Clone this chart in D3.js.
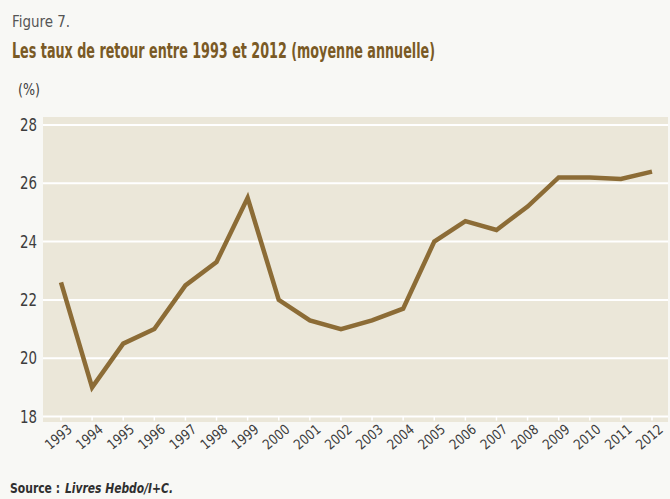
<!DOCTYPE html>
<html>
<head>
<meta charset="utf-8">
<script src="https://cdn.jsdelivr.net/npm/d3@7"></script>
<style>
  html, body { margin: 0; padding: 0; background: #f8f8f5; }
  svg { display: block; }
</style>
</head>
<body>
<svg id="chart" width="670" height="499"></svg>
<script>
const years = ["1993","1994","1995","1996","1997","1998","1999","2000","2001","2002",
               "2003","2004","2005","2006","2007","2008","2009","2010","2011","2012"];
const rates = [22.6, 19.0, 20.5, 21.0, 22.5, 23.3, 25.5, 22.0, 21.3, 21.0,
               21.3, 21.7, 24.0, 24.7, 24.4, 25.2, 26.2, 26.2, 26.15, 26.4];
const yTicks = [18, 20, 22, 24, 26, 28];

const condensed = "'DejaVu Sans Condensed', 'Liberation Sans Narrow', sans-serif";
const svg = d3.select("#chart");

const plot = { left: 43, right: 668, top: 117, bottom: 422 };

const x = d3.scalePoint().domain(years).range([61, 652]);
const y = d3.scaleLinear().domain([18, 28]).range([416.5, 125]);

// plot background
svg.append("rect")
  .attr("x", plot.left).attr("y", plot.top)
  .attr("width", plot.right - plot.left).attr("height", plot.bottom - plot.top)
  .attr("fill", "#ebe7d9");

// gridlines
svg.append("g").selectAll("line").data(yTicks).join("line")
  .attr("x1", plot.left).attr("x2", plot.right)
  .attr("y1", d => y(d)).attr("y2", d => y(d))
  .attr("stroke", "#ffffff").attr("stroke-width", 2);

// small ticks on bottom line
svg.append("g").selectAll("line").data(years).join("line")
  .attr("x1", d => x(d)).attr("x2", d => x(d))
  .attr("y1", y(18)).attr("y2", y(18) + 4)
  .attr("stroke", "#ffffff").attr("stroke-width", 1.5);

// y axis labels
svg.append("g").selectAll("text").data(yTicks).join("text")
  .attr("x", 37).attr("y", d => y(d) + 6)
  .attr("text-anchor", "end")
  .attr("font-family", condensed).attr("font-size", 17)
  .attr("textLength", 17).attr("lengthAdjust", "spacingAndGlyphs")
  .attr("fill", "#3d3d3d")
  .text(d => d);

// x axis labels (rotated)
svg.append("g").selectAll("text").data(years).join("text")
  .attr("transform", d => `translate(${x(d) + 12},${431}) rotate(-40)`)
  .attr("text-anchor", "end")
  .attr("font-family", condensed).attr("font-size", 14)
  .attr("textLength", 30).attr("lengthAdjust", "spacingAndGlyphs")
  .attr("fill", "#3d3d3d")
  .text(d => d);

// line
const line = d3.line()
  .x((d, i) => x(years[i]))
  .y(d => y(d));
svg.append("path")
  .datum(rates)
  .attr("d", line)
  .attr("fill", "none")
  .attr("stroke", "#8c6c36")
  .attr("stroke-width", 4.5)
  .attr("stroke-linejoin", "miter")
  .attr("stroke-linecap", "butt");

// titles
svg.append("text")
  .attr("x", 12).attr("y", 27)
  .attr("font-family", condensed).attr("font-size", 16)
  .attr("textLength", 58).attr("lengthAdjust", "spacingAndGlyphs")
  .attr("fill", "#555555")
  .text("Figure 7.");
svg.append("text")
  .attr("x", 12).attr("y", 58)
  .attr("font-family", condensed).attr("font-size", 21).attr("font-weight", "bold")
  .attr("textLength", 423).attr("lengthAdjust", "spacingAndGlyphs")
  .attr("fill", "#7a5a25")
  .text("Les taux de retour entre 1993 et 2012 (moyenne annuelle)");
svg.append("text")
  .attr("x", 18).attr("y", 95)
  .attr("font-family", condensed).attr("font-size", 15)
  .attr("textLength", 22).attr("lengthAdjust", "spacingAndGlyphs")
  .attr("fill", "#3d3d3d")
  .text("(%)");

// source
svg.append("text")
  .attr("x", 10).attr("y", 493)
  .attr("font-family", condensed).attr("font-size", 14).attr("font-weight", "bold")
  .attr("textLength", 50).attr("lengthAdjust", "spacingAndGlyphs")
  .attr("fill", "#2f2f2f")
  .text("Source :");
svg.append("text")
  .attr("x", 65).attr("y", 493)
  .attr("font-family", condensed).attr("font-size", 14).attr("font-weight", "bold")
  .attr("font-style", "italic")
  .attr("textLength", 108).attr("lengthAdjust", "spacingAndGlyphs")
  .attr("fill", "#2f2f2f")
  .text("Livres Hebdo/I+C.");
</script>
</body>
</html>
